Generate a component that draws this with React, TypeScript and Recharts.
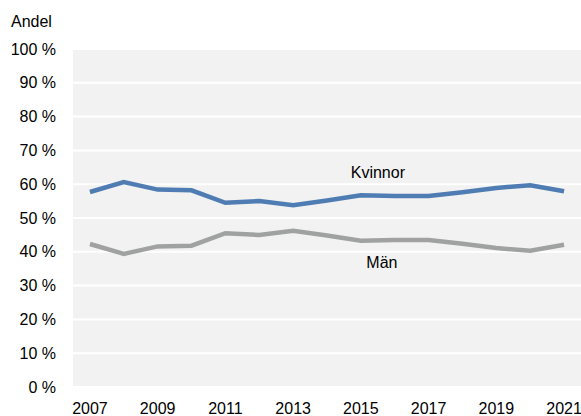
import React from 'react';
import { LineChart, Line, XAxis, YAxis, CartesianGrid, LabelList, Label } from 'recharts';

const years = ['2007','2008','2009','2010','2011','2012','2013','2014','2015','2016','2017','2018','2019','2020','2021'];
const kvinnor = [57.7, 60.6, 58.4, 58.2, 54.5, 55.0, 53.8, 55.2, 56.7, 56.5, 56.5, 57.6, 58.9, 59.7, 57.9];
const man = [42.3, 39.4, 41.6, 41.8, 45.5, 45.0, 46.2, 44.8, 43.3, 43.5, 43.5, 42.4, 41.1, 40.3, 42.1];
const yTicks = [0, 10, 20, 30, 40, 50, 60, 70, 80, 90, 100];

const data = years.map((y, i) => ({ year: y, kvinnor: kvinnor[i], man: man[i] }));

const FONT = 'Liberation Sans, Arial, Helvetica, sans-serif';
const FS = 16;

const seriesLabel = (text: string, idx: number, dx: number, dy: number) => (props: any) => {
  if (props.index !== idx) return null;
  return (
    <text x={props.x + dx} y={props.y + dy} textAnchor="middle" fontFamily={FONT} fontSize={FS} fill="#000">
      {text}
    </text>
  );
};

export default function App() {
  return (
    <div style={{ position: 'absolute', left: 0, top: 0, background: '#fff' }}>
      <LineChart width={581} height={416} data={data} margin={{ top: 49, right: 0, bottom: 0, left: 0 }}>
        <CartesianGrid vertical={false} stroke="#ffffff" strokeWidth={2} fill="#f2f2f2" />
        <XAxis
          dataKey="year"
          scale="band"
          interval={1}
          axisLine={false}
          tickLine={false}
          tickSize={0}
          tickMargin={16}
          height={29}
          tick={{ fontFamily: FONT, fontSize: FS, fill: '#000' }}
        />
        <YAxis
          domain={[0, 100]}
          ticks={yTicks}
          interval={0}
          width={73}
          axisLine={false}
          tickLine={false}
          tickSize={0}
          tickMargin={17}
          tickFormatter={(v: number) => `${v} %`}
          tick={{ fontFamily: FONT, fontSize: FS, fill: '#000' }}
        >
          <Label
            content={() => (
              <text x={11} y={26.5} fontFamily={FONT} fontSize={FS} fill="#000">Andel</text>
            )}
          />
        </YAxis>
        <Line type="linear" dataKey="kvinnor" stroke="#4f7db3" strokeWidth={4.5} dot={false} isAnimationActive={false}>
          <LabelList dataKey="kvinnor" content={seriesLabel('Kvinnor', 8, 17, -17)} />
        </Line>
        <Line type="linear" dataKey="man" stroke="#a0a2a1" strokeWidth={4.5} dot={false} isAnimationActive={false}>
          <LabelList dataKey="man" content={seriesLabel('Män', 8, 21, 27.5)} />
        </Line>
      </LineChart>
    </div>
  );
}
